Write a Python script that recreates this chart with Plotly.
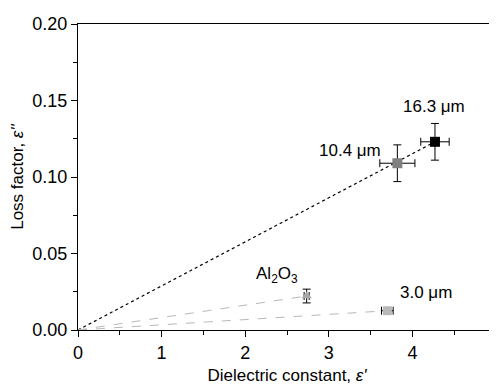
import plotly.graph_objects as go

samples = ["16.3 μm", "10.4 μm", "Al<sub>2</sub>O<sub>3</sub>", "3.0 μm"]
eps_real = [4.27, 3.82, 2.735, 3.70]
eps_imag = [0.123, 0.109, 0.0222, 0.0126]
err_real = [0.17, 0.21, 0.03, 0.07]
err_imag = [0.012, 0.012, 0.0045, 0.002]
colors = ["#000000", "#808080", "#a8a8a8", "#b8b8b8"]
symbols = ["square", "square", "triangle-up", "square"]

# label positions (data coords)
label_pos = [(4.26, 0.1458), (3.25, 0.1176), (2.38, 0.036), (4.16, 0.0242)]

fig = go.Figure()

# trend lines from origin
fig.add_trace(go.Scatter(x=[0, eps_real[0]], y=[0, eps_imag[0]], mode="lines",
                         line=dict(color="black", width=1.2, dash="dot"), showlegend=False))
for i in (2, 3):
    fig.add_trace(go.Scatter(x=[0, eps_real[i]], y=[0, eps_imag[i]], mode="lines",
                             line=dict(color="#b8b8b8", width=1, dash="dash"), showlegend=False))

for i in range(len(samples)):
    fig.add_trace(go.Scatter(
        x=[eps_real[i]], y=[eps_imag[i]], mode="markers",
        marker=dict(color=colors[i], symbol=symbols[i], size=10 if i < 2 else 9,
                    line=dict(width=0)),
        error_x=dict(type="data", array=[err_real[i]], color="black", thickness=1, width=4),
        error_y=dict(type="data", array=[err_imag[i]], color="black", thickness=1, width=4),
        showlegend=False))
    fig.add_annotation(x=label_pos[i][0], y=label_pos[i][1], text=samples[i],
                       showarrow=False, font=dict(size=17, color="black"))

axis_common = dict(showline=True, linecolor="black", linewidth=1.2, mirror=True,
                   ticks="outside", ticklen=6, tickwidth=1.2, tickcolor="black",
                   showgrid=False, zeroline=False, automargin=False,
                   ticklabeloverflow="allow",
                   tickfont=dict(size=18, color="black"))

fig.update_xaxes(range=[0, 5], dtick=1, tick0=0,
                 minor=dict(ticks="outside", ticklen=4, dtick=0.5, tickcolor="black", tickwidth=1),
                 title=dict(text="Dielectric constant, <i>ε'</i>", font=dict(size=17, color="black"),
                            standoff=26),
                 **axis_common)
fig.update_yaxes(range=[0, 0.2], dtick=0.05, tick0=0, tickformat=".2f",
                 minor=dict(ticks="outside", ticklen=4, dtick=0.025, tickcolor="black", tickwidth=1),
                 title=dict(text="Loss factor, <i>ε''</i>", font=dict(size=17, color="black"),
                            standoff=6),
                 **axis_common)

# page body adds an 8px offset; size the figure so the plot area lands where the reference has it
fig.update_layout(width=489, height=377, margin=dict(l=70, r=1, t=16, b=55),
                  plot_bgcolor="white", paper_bgcolor="white",
                  font=dict(family="Liberation Sans, Arial, sans-serif", color="black"))

fig.write_html("out.html")
